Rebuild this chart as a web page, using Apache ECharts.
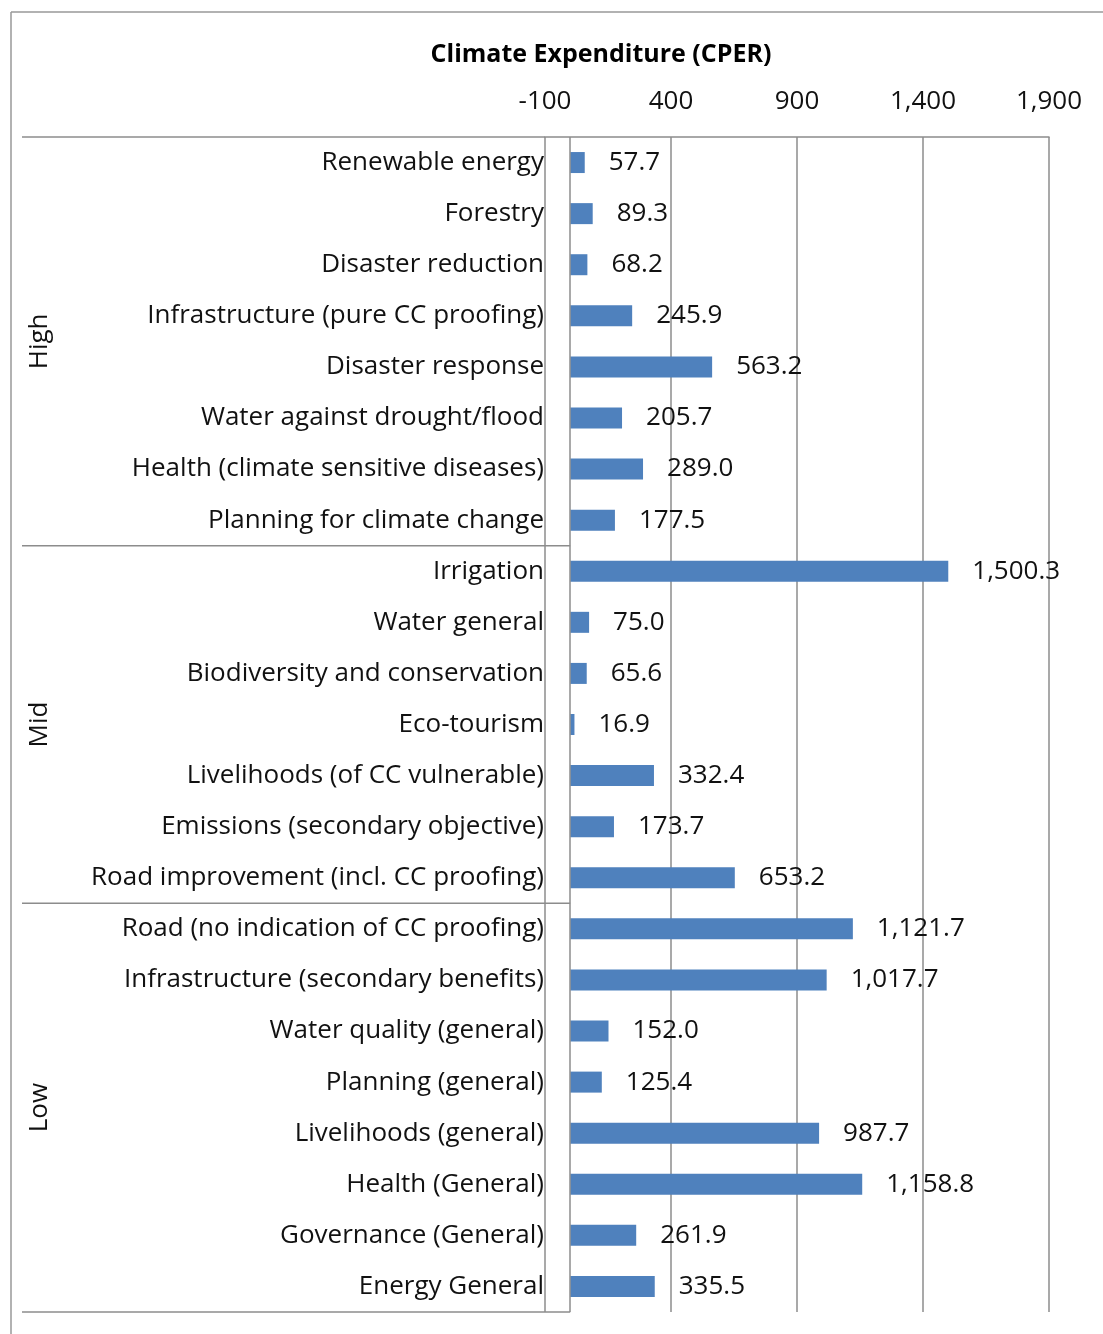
<!DOCTYPE html>
<html>
<head>
<meta charset="utf-8">
<script src="https://cdn.jsdelivr.net/npm/echarts@6/dist/echarts.min.js"></script>
<style>
html,body{margin:0;padding:0;background:#fff;}
#chart{width:1103px;height:1334px;}
</style>
</head>
<body>
<div id="chart"></div>
<script>
// ---- data ----
const categories = [
  'Renewable energy',
  'Forestry',
  'Disaster reduction',
  'Infrastructure (pure CC proofing)',
  'Disaster response',
  'Water against drought/flood',
  'Health (climate sensitive diseases)',
  'Planning for climate change',
  'Irrigation',
  'Water general',
  'Biodiversity and conservation',
  'Eco-tourism',
  'Livelihoods (of CC vulnerable)',
  'Emissions (secondary objective)',
  'Road improvement (incl. CC proofing)',
  'Road (no indication of CC proofing)',
  'Infrastructure (secondary benefits)',
  'Water quality (general)',
  'Planning (general)',
  'Livelihoods (general)',
  'Health (General)',
  'Governance (General)',
  'Energy General'
];
const values = [
  57.7, 89.3, 68.2, 245.9, 563.2, 205.7, 289.0, 177.5,
  1500.3, 75.0, 65.6, 16.9, 332.4, 173.7, 653.2,
  1121.7, 1017.7, 152.0, 125.4, 987.7, 1158.8, 261.9, 335.5
];
const groupNames = ['High', 'Mid', 'Low'];
const groupSizes = [8, 7, 8];
const axisTitle = 'Climate Expenditure (CPER)';
const axisMin = -100;
const axisMax = 1900;
const axisInterval = 500;

// ---- chart ----
const FONT = '"Open Sans"';
const FS = 26;
const LINE = '#8c8c8c';
const TEXT = '#111';
const chart = echarts.init(document.getElementById('chart'), null, {renderer: 'canvas'});
const fmt1 = v => Number(v).toLocaleString('en-US', {minimumFractionDigits: 1, maximumFractionDigits: 1});

const option = {
  animation: false,
  backgroundColor: '#fff',
  textStyle: {fontFamily: FONT},
  title: {
    text: axisTitle,
    left: 601,
    top: 42,
    padding: 0,
    textAlign: 'center',
    textStyle: {fontFamily: FONT, fontSize: 25, fontWeight: 'bold', color: '#000'}
  },
  grid: {left: 545, right: 54, top: 137, bottom: 22, containLabel: false},
  xAxis: {
    type: 'value',
    position: 'top',
    min: axisMin,
    max: axisMax,
    interval: axisInterval,
    axisLine: {show: true, onZero: false, lineStyle: {color: LINE, width: 1.5}},
    axisTick: {show: false},
    axisLabel: {
      fontFamily: FONT, fontSize: FS, color: TEXT, margin: 22,
      formatter: v => Number(v).toLocaleString('en-US')
    },
    splitLine: {show: true, lineStyle: {color: LINE, width: 1.5}}
  },
  yAxis: {
    type: 'category',
    inverse: true,
    data: categories,
    axisLine: {show: false},
    axisTick: {show: false},
    axisLabel: {fontFamily: FONT, fontSize: FS, color: TEXT, margin: 1}
  },
  series: [{
    type: 'bar',
    data: values,
    barWidth: 21,
    itemStyle: {color: '#4F81BD'},
    label: {
      show: true, position: 'right', distance: 24,
      fontFamily: FONT, fontSize: FS, color: TEXT,
      formatter: p => fmt1(p.value)
    },
    markLine: {
      silent: true,
      symbol: 'none',
      label: {show: false},
      lineStyle: {color: LINE, width: 1.5, type: 'solid'},
      data: [{xAxis: 0}]
    }
  }]
};
chart.setOption(option);

// ---- decorations computed from the axes ----
const yFirst = chart.convertToPixel({yAxisIndex: 0}, categories[0]);
const yLast = chart.convertToPixel({yAxisIndex: 0}, categories[categories.length - 1]);
const band = (yLast - yFirst) / (categories.length - 1);
const xZero = chart.convertToPixel({xAxisIndex: 0}, 0);
const xMin = chart.convertToPixel({xAxisIndex: 0}, axisMin);
const leftX = 22;
const lineStyle = {stroke: LINE, lineWidth: 1.5};
const graphics = [];
const topY = yFirst - band / 2;
graphics.push({type: 'line', shape: {x1: leftX, y1: topY, x2: xMin, y2: topY}, style: lineStyle, silent: true});
let start = 0;
groupSizes.forEach((n, gi) => {
  const y0 = yFirst + (start - 0.5) * band;
  const y1 = yFirst + (start + n - 0.5) * band;
  graphics.push({type: 'line', shape: {x1: leftX, y1: y1, x2: xZero, y2: y1}, style: lineStyle, silent: true});
  graphics.push({
    type: 'text',
    x: 40, y: (y0 + y1) / 2,
    rotation: Math.PI / 2,
    style: {text: groupNames[gi], fontFamily: FONT, fontSize: FS, fill: TEXT, align: 'center', verticalAlign: 'middle'},
    silent: true
  });
  start += n;
});
// outer chart-area border (top and left edges visible)
graphics.push({type: 'line', shape: {x1: 11, y1: 12, x2: 1103, y2: 12}, style: {stroke: '#999', lineWidth: 1.5}, silent: true});
graphics.push({type: 'line', shape: {x1: 11, y1: 12, x2: 11, y2: 1334}, style: {stroke: '#999', lineWidth: 1.5}, silent: true});
chart.setOption({graphic: graphics});
</script>
</body>
</html>
